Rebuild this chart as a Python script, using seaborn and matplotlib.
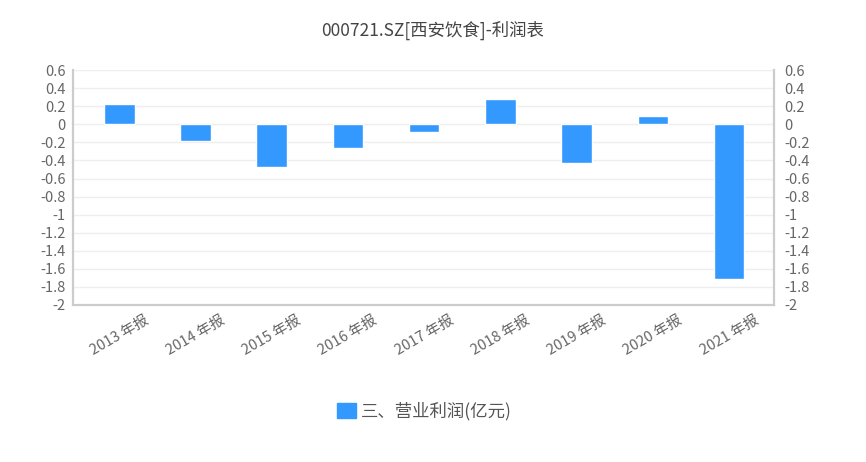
import matplotlib
matplotlib.use('Agg')
import matplotlib.pyplot as plt
import seaborn as sns
import pandas as pd
from matplotlib.patches import Patch

titulo = '000721.SZ[西安饮食]-利润表'
periodos = ['2013 年报', '2014 年报', '2015 年报', '2016 年报', '2017 年报',
            '2018 年报', '2019 年报', '2020 年报', '2021 年报']
lucro_operacional = [0.23, -0.18, -0.47, -0.26, -0.08, 0.28, -0.43, 0.09, -1.71]
nome_serie = '三、营业利润(亿元)'
yticks = [0.6, 0.4, 0.2, 0, -0.2, -0.4, -0.6, -0.8, -1, -1.2, -1.4, -1.6, -1.8, -2]

sns.set_style('white')
plt.rcParams['font.family'] = ['Noto Sans CJK SC', 'DejaVu Sans']
plt.rcParams['axes.unicode_minus'] = False

df = pd.DataFrame({'periodo': periodos, 'valor': lucro_operacional})

fig = plt.figure(figsize=(8.66, 4.62), dpi=100)
ax = fig.add_axes([0.084, 0.34, 0.810, 0.508])
cor = '#3399ff'
sns.barplot(data=df, x='periodo', y='valor', color=cor, width=0.4,
            saturation=1, ax=ax, zorder=3)

rotulos = [f'{v:g}' for v in yticks]
ax.set_xlim(-0.61, 8.59)
ax.set_ylim(-2, 0.6)
ax.set_yticks(yticks)
ax.set_yticklabels(rotulos)
ax.set_xlabel('')
ax.set_ylabel('')
ax.grid(axis='y', color='#eeeeee', linewidth=1, zorder=0)
ax.tick_params(axis='y', length=0, labelsize=10.5, colors='#666666', pad=5)
ax.tick_params(axis='x', length=0, labelsize=10.5, colors='#666666', pad=6)
plt.setp(ax.get_xticklabels(), rotation=30, ha='center', va='top')

ax2 = ax.twinx()
ax2.set_ylim(-2, 0.6)
ax2.set_yticks(yticks)
ax2.set_yticklabels(rotulos)
ax2.tick_params(axis='y', length=0, labelsize=10.5, colors='#666666', pad=7)

for a in (ax, ax2):
    a.spines['top'].set_visible(False)
    for lado in ('left', 'right', 'bottom'):
        a.spines[lado].set_color('#cccccc')
        a.spines[lado].set_linewidth(1.5)

fig.text(0.5, 0.935, titulo, ha='center', va='center', fontsize=12.5, color='#444444')

fig.legend(handles=[Patch(facecolor=cor, edgecolor=cor, label=nome_serie)],
           loc='center', bbox_to_anchor=(0.49, 0.11), frameon=False,
           fontsize=12.5, labelcolor='#555555', handlelength=1.1, handleheight=0.9,
           handletextpad=0.25)

fig.savefig('out.png', dpi=100)
